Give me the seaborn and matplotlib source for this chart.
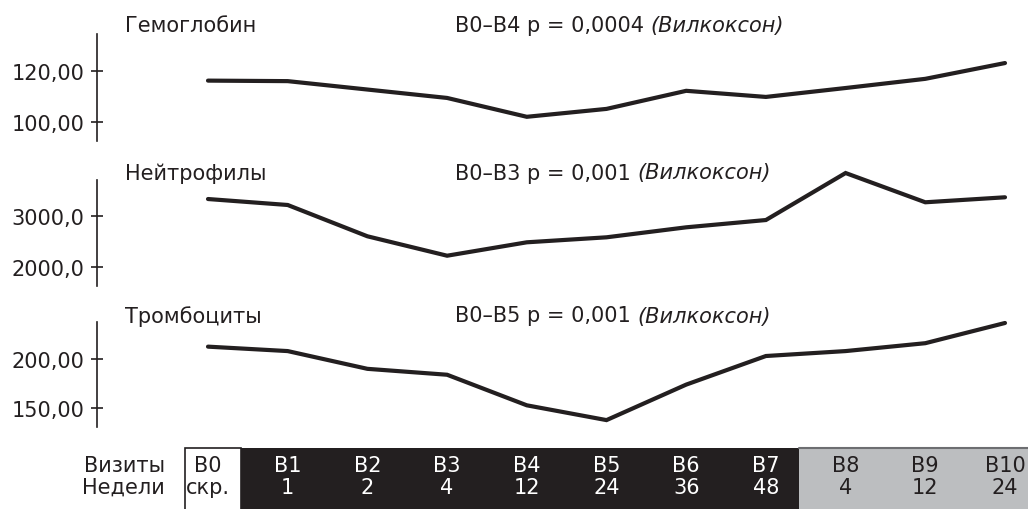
import numpy as np
import pandas as pd
import matplotlib
matplotlib.use("Agg")
import matplotlib.pyplot as plt
import seaborn as sns
from matplotlib.patches import Rectangle

# --- data -------------------------------------------------------------
visits = ["В0", "В1", "В2", "В3", "В4", "В5", "В6", "В7", "В8", "В9", "В10"]
weeks = ["скр.", "1", "2", "4", "12", "24", "36", "48", "4", "12", "24"]

hemoglobin = [116.2, 116.0, 112.7, 109.4, 102.0, 105.1, 112.2, 109.8, 113.3, 116.9, 123.1]
neutrophils = [3339, 3222, 2608, 2227, 2490, 2588, 2784, 2927, 3849, 3275, 3373]
platelets = [212.5, 208.0, 190.0, 184.0, 153.0, 138.0, 174.0, 203.0, 208.0, 216.0, 236.5]

panel_titles = ["Гемоглобин", "Нейтрофилы", "Тромбоциты"]
panel_tests = ["В0–В4 p = 0,0004 ", "В0–В3 p = 0,001 ", "В0–В5 p = 0,001 "]
test_name = "(Вилкоксон)"

hb_ticks = [100, 120]
hb_labels = ["100,00", "120,00"]
neu_ticks = [2000, 3000]
neu_labels = ["2000,0", "3000,0"]
plt_ticks = [150, 200]
plt_labels = ["150,00", "200,00"]

row_labels = ["Визиты", "Недели"]

# --- style ------------------------------------------------------------
sns.set_theme(style="white")
plt.rcParams["font.family"] = ["DejaVu Sans"]
INK = "#231f20"
GREY = "#bcbec0"
FS = 15

W, H = 1028, 510
fig = plt.figure(figsize=(W / 100, H / 100), dpi=100)

x_left_px, x_right_px = 97, 1028
first_px, step_px = 208, 79.7
xlim = (-(first_px - x_left_px) / step_px, 10 + (x_right_px - first_px - 10 * step_px) / step_px)


def px_axes(top, bottom):
    return fig.add_axes([x_left_px / W, 1 - bottom / H,
                         (x_right_px - x_left_px) / W, (bottom - top) / H])


panels = [
    (hemoglobin, (35, 142), (92.5, 134.5), hb_ticks, hb_labels, 26),
    (neutrophils, (180.7, 287), (1633, 3718), neu_ticks, neu_labels, 173.5),
    (platelets, (322.7, 428.3), (130.7, 237.8), plt_ticks, plt_labels, 316.5),
]

df_x = np.arange(len(visits))
for i, (values, (top, bottom), ylim, ticks, labels, title_y) in enumerate(panels):
    ax = px_axes(top, bottom)
    df = pd.DataFrame({"visit": df_x, "value": values})
    sns.lineplot(data=df, x="visit", y="value", ax=ax, color=INK,
                 linewidth=3.0, solid_joinstyle="miter")
    for ln in ax.lines:
        ln.set_clip_on(False)
    ax.set_xlim(*xlim)
    ax.set_ylim(*ylim)
    ax.set_xticks([])
    ax.set_yticks(ticks)
    ax.set_yticklabels(labels)
    ax.set_xlabel("")
    ax.set_ylabel("")
    for s in ["top", "right", "bottom"]:
        ax.spines[s].set_visible(False)
    ax.spines["left"].set_color(INK)
    ax.spines["left"].set_linewidth(1.2)
    ax.tick_params(axis="y", direction="inout", length=8, width=1.2,
                   color=INK, labelsize=FS, labelcolor=INK, pad=5, left=True)
    ax.patch.set_alpha(0)

    fig.text(125 / W, 1 - title_y / H, panel_titles[i], fontsize=FS,
             color=INK, ha="left", va="center")
    t = fig.text(455 / W, 1 - title_y / H, panel_tests[i], fontsize=FS,
                 color=INK, ha="left", va="center")
    fig.canvas.draw()
    bb = t.get_window_extent(renderer=fig.canvas.get_renderer())
    fig.text(bb.x1 / W, 1 - title_y / H, test_name, fontsize=FS,
             color=INK, ha="left", va="center", style="italic")

# --- visit / week strip ------------------------------------------------
tax = px_axes(449, 510)
tax.set_xlim(*xlim)
tax.set_ylim(1, 0)
tax.axis("off")

b0_left, b0_right, dark_right = -0.29, 0.415, 7.415
tax.add_patch(Rectangle((b0_left, 0), b0_right - b0_left, 1.2, facecolor="white",
                        edgecolor=INK, linewidth=1.2, clip_on=False))
tax.add_patch(Rectangle((b0_right, 0), dark_right - b0_right, 1.2, facecolor=INK,
                        edgecolor="none", clip_on=False))
tax.add_patch(Rectangle((dark_right, 0), xlim[1] - dark_right + 0.1, 1.2,
                        facecolor=GREY, edgecolor="none", clip_on=False))
tax.plot([dark_right, xlim[1] + 0.1], [0, 0], color="#6d6e71", linewidth=1.5,
         clip_on=False)

row_y = [0.28, 0.64]
for k, label in enumerate(row_labels):
    tax.text(165 / W, 1 - (449 + row_y[k] * 61) / H, label, transform=fig.transFigure,
             fontsize=FS, color=INK, ha="right", va="center")

for j in range(len(visits)):
    if j == 0:
        col = INK
    elif j <= 7:
        col = "white"
    else:
        col = INK
    tax.text(j, row_y[0], visits[j], fontsize=FS, color=col, ha="center", va="center")
    tax.text(j, row_y[1], weeks[j], fontsize=FS, color=col, ha="center", va="center")

fig.savefig("out.png", dpi=100, facecolor="white")
